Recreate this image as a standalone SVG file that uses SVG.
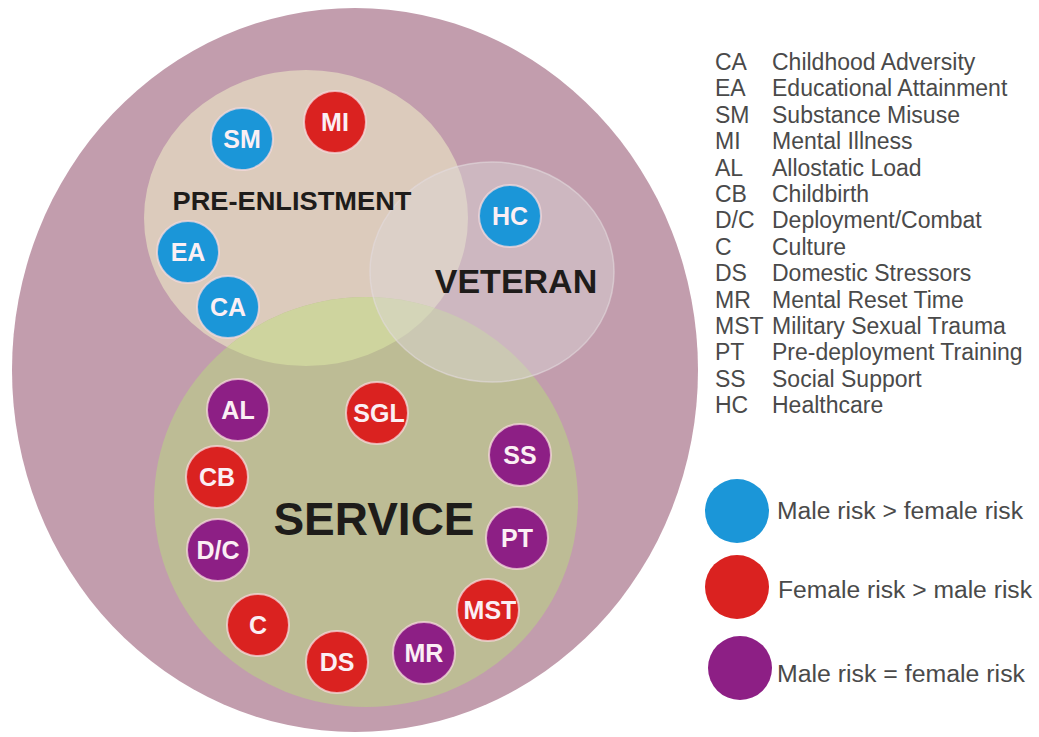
<svg xmlns="http://www.w3.org/2000/svg" width="1039" height="737" viewBox="0 0 1039 737">
  <style>
    .node circle { stroke: #f6d9dc; stroke-width: 2; stroke-opacity: 0.75; }
    .blue { fill: #1b96d8; }
    .red { fill: #da2220; }
    .purple { fill: #8d1f85; }
    .node text { font-family: "Liberation Sans", Arial, sans-serif; font-weight: bold; font-size: 25px; fill: #fbeff4; text-anchor: middle; }
    .title { font-family: "Liberation Sans", Arial, sans-serif; font-weight: bold; fill: #1e1c1a; text-anchor: middle; }
    .key text { font-family: "Liberation Sans", Arial, sans-serif; font-size: 23px; fill: #4a4a4a; }
    .risk text { font-family: "Liberation Sans", Arial, sans-serif; font-size: 23px; fill: #4a4a4a; }
  </style>
  <defs>
    <clipPath id="clip-service">
      <ellipse cx="366" cy="502" rx="212" ry="205"/>
    </clipPath>
  </defs>
  <rect width="1039" height="737" fill="#ffffff"/>

  <!-- outer sphere and the three life stages -->
  <g id="regions">
    <ellipse id="outer" cx="355" cy="370" rx="343" ry="362" fill="#c29dad"/>
    <ellipse id="pre-enlistment" cx="306" cy="218" rx="162" ry="148" fill="#dccbbc"/>
    <ellipse id="service" cx="366" cy="502" rx="212" ry="205" fill="#bdbc95"/>
    <ellipse id="pre-service-overlap" cx="306" cy="218" rx="162" ry="148" fill="#ced49e" clip-path="url(#clip-service)"/>
    <ellipse id="veteran" cx="492" cy="272" rx="122" ry="110" fill="#dcd6d8" fill-opacity="0.45" stroke="#e2dadd" stroke-width="1.5" stroke-opacity="0.6"/>
  </g>

  <text class="title" x="292" y="210" font-size="26" textLength="239" lengthAdjust="spacingAndGlyphs">PRE-ENLISTMENT</text>
  <text class="title" x="516" y="293" font-size="34">VETERAN</text>
  <text class="title" x="374" y="535" font-size="46">SERVICE</text>

  <!-- risk factors -->
  <g id="node-SM" class="node"><circle class="blue" cx="242" cy="139" r="31"/><text x="242" y="148">SM</text></g>
  <g id="node-MI" class="node"><circle class="red" cx="335" cy="122" r="31"/><text x="335" y="131">MI</text></g>
  <g id="node-EA" class="node"><circle class="blue" cx="188" cy="252" r="31"/><text x="188" y="261">EA</text></g>
  <g id="node-CA" class="node"><circle class="blue" cx="228" cy="307" r="31"/><text x="228" y="316">CA</text></g>
  <g id="node-HC" class="node"><circle class="blue" cx="510" cy="216" r="31"/><text x="510" y="225">HC</text></g>
  <g id="node-AL" class="node"><circle class="purple" cx="238" cy="410" r="31"/><text x="238" y="419">AL</text></g>
  <g id="node-SGL" class="node"><circle class="red" cx="377" cy="413" r="31"/><text x="379" y="422">SGL</text></g>
  <g id="node-SS" class="node"><circle class="purple" cx="520" cy="455" r="31"/><text x="520" y="464">SS</text></g>
  <g id="node-CB" class="node"><circle class="red" cx="217" cy="477" r="31"/><text x="217" y="486">CB</text></g>
  <g id="node-DC" class="node"><circle class="purple" cx="218" cy="550" r="31"/><text x="218" y="559">D/C</text></g>
  <g id="node-PT" class="node"><circle class="purple" cx="517" cy="538" r="31"/><text x="517" y="547">PT</text></g>
  <g id="node-C" class="node"><circle class="red" cx="258" cy="625" r="31"/><text x="258" y="634">C</text></g>
  <g id="node-MST" class="node"><circle class="red" cx="488" cy="610" r="31"/><text x="490" y="619">MST</text></g>
  <g id="node-DS" class="node"><circle class="red" cx="337" cy="662" r="31"/><text x="337" y="671">DS</text></g>
  <g id="node-MR" class="node"><circle class="purple" cx="424" cy="653" r="31"/><text x="424" y="662">MR</text></g>

  <!-- abbreviation key -->
  <g id="key" class="key">
    <text x="715" y="70">CA</text><text x="772" y="70">Childhood Adversity</text>
    <text x="715" y="96.4">EA</text><text x="772" y="96.4">Educational Attainment</text>
    <text x="715" y="122.8">SM</text><text x="772" y="122.8">Substance Misuse</text>
    <text x="715" y="149.2">MI</text><text x="772" y="149.2">Mental Illness</text>
    <text x="715" y="175.6">AL</text><text x="772" y="175.6">Allostatic Load</text>
    <text x="715" y="202">CB</text><text x="772" y="202">Childbirth</text>
    <text x="715" y="228.4">D/C</text><text x="772" y="228.4">Deployment/Combat</text>
    <text x="715" y="254.8">C</text><text x="772" y="254.8">Culture</text>
    <text x="715" y="281.2">DS</text><text x="772" y="281.2">Domestic Stressors</text>
    <text x="715" y="307.6">MR</text><text x="772" y="307.6">Mental Reset Time</text>
    <text x="715" y="334">MST</text><text x="772" y="334">Military Sexual Trauma</text>
    <text x="715" y="360.4">PT</text><text x="772" y="360.4">Pre-deployment Training</text>
    <text x="715" y="386.8">SS</text><text x="772" y="386.8">Social Support</text>
    <text x="715" y="413.2">HC</text><text x="772" y="413.2">Healthcare</text>
  </g>

  <!-- colour legend -->
  <g id="legend-male" class="risk"><circle class="blue" cx="737" cy="511" r="32"/><text x="777" y="519" textLength="246" lengthAdjust="spacingAndGlyphs">Male risk &gt; female risk</text></g>
  <g id="legend-female" class="risk"><circle class="red" cx="737" cy="587" r="32"/><text x="778" y="598" textLength="254" lengthAdjust="spacingAndGlyphs">Female risk &gt; male risk</text></g>
  <g id="legend-equal" class="risk"><circle class="purple" cx="740" cy="668" r="32"/><text x="777" y="682" textLength="248" lengthAdjust="spacingAndGlyphs">Male risk = female risk</text></g>
</svg>
